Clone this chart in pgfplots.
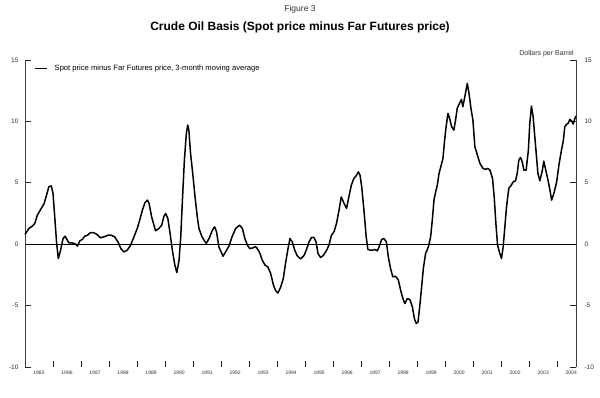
\documentclass[border=0pt]{standalone}
\usepackage{pgfplots}
\pgfplotsset{compat=1.18}
\usepackage{fontspec}
\setmainfont{Liberation Sans}
\begin{document}
\begin{tikzpicture}
\pgfplotsset{
  common/.style={
    scale only axis, width=551pt, height=307pt,
    xmin=1985, xmax=2004.67, ymin=-10, ymax=15,
    /pgf/number format/assume math mode=true,
    at={(0pt,0pt)}, anchor=south west,
  }
}
\path[use as bounding box] (-25pt,-31pt) rectangle (575pt,367pt);
\begin{axis}[common,
  clip=false,
  axis line style={draw=none},
  ytick={-10,-5,0,5,10,15},
  ytick pos=both,
  yticklabel pos=left,
  y tick label style={font=\fontsize{6.5}{7}\selectfont, text=black!80, xshift=-3pt},
  major tick length=6pt,
  tick align=inside,
  every tick/.style={black!85, line width=0.8pt},
  xtick={1985,1986,...,2004},
  xticklabels={1985,1986,1987,1988,1989,1990,1991,1992,1993,1994,1995,1996,1997,1998,1999,2000,2001,2002,2003,2004},
  xtick pos=bottom,
  x tick label style={font=\fontsize{5}{6}\selectfont, text=black!80, xshift=14pt, yshift=0pt},
  legend style={at={(axis description cs:0,1)}, anchor=north west, draw=none, fill=none,
    font=\fontsize{7.6}{8}\selectfont, inner sep=0pt, xshift=9pt, yshift=-3pt},
  legend image code/.code={\draw[#1] (0pt,0pt) -- (12pt,0pt); \path (17pt,0pt);},
]
\draw[black!75, line width=0.7pt] (rel axis cs:0,0) -- (rel axis cs:0,1);
\draw[black!75, line width=0.7pt] (rel axis cs:1,0) -- (rel axis cs:1,1);
\addplot[black, line width=0.8pt, forget plot] coordinates {(1985,0) (2004.67,0)};
\addplot[black, line width=1.5pt, line join=round] coordinates {
(1985.00,0.80) (1985.14,1.28) (1985.26,1.47) (1985.35,1.69) (1985.44,2.36) (1985.56,2.83) (1985.68,3.30) (1985.77,4.00) (1985.85,4.67) (1985.94,4.75) (1986.00,4.13) (1986.07,1.96) (1986.13,0.06) (1986.19,-1.17) (1986.27,-0.49) (1986.36,0.46) (1986.43,0.65) (1986.51,0.33) (1986.57,0.10) (1986.69,0.10) (1986.81,0.00) (1986.87,-0.16) (1986.96,0.27) (1987.05,0.40) (1987.13,0.65) (1987.23,0.73) (1987.32,0.92) (1987.44,0.95) (1987.56,0.81) (1987.70,0.52) (1987.82,0.60) (1987.96,0.73) (1988.08,0.73) (1988.20,0.60) (1988.32,0.19) (1988.42,-0.35) (1988.53,-0.63) (1988.65,-0.49) (1988.77,-0.08) (1988.89,0.60) (1989.01,1.30) (1989.10,2.00) (1989.19,2.77) (1989.28,3.37) (1989.37,3.59) (1989.43,3.32) (1989.52,2.23) (1989.66,1.09) (1989.78,1.28) (1989.88,1.55) (1989.96,2.28) (1990.02,2.50) (1990.10,2.09) (1990.18,0.87) (1990.26,-0.49) (1990.35,-1.71) (1990.42,-2.31) (1990.50,-1.30) (1990.56,0.60) (1990.62,3.59) (1990.69,6.85) (1990.76,9.02) (1990.81,9.70) (1990.85,9.29) (1990.91,7.39) (1991.00,5.49) (1991.07,3.85) (1991.15,2.23) (1991.21,1.28) (1991.31,0.65) (1991.39,0.33) (1991.47,0.06) (1991.57,0.46) (1991.69,1.14) (1991.77,1.41) (1991.84,1.00) (1991.92,-0.22) (1992.07,-0.98) (1992.16,-0.63) (1992.28,-0.16) (1992.40,0.65) (1992.52,1.28) (1992.66,1.55) (1992.76,1.28) (1992.85,0.46) (1992.94,-0.08) (1993.02,-0.35) (1993.14,-0.30) (1993.23,-0.20) (1993.29,-0.35) (1993.39,-0.76) (1993.47,-1.30) (1993.57,-1.71) (1993.67,-1.85) (1993.77,-2.39) (1993.87,-3.34) (1993.95,-3.80) (1994.03,-3.97) (1994.13,-3.48) (1994.22,-2.80) (1994.30,-1.57) (1994.39,-0.35) (1994.46,0.46) (1994.54,0.19) (1994.63,-0.49) (1994.72,-0.95) (1994.84,-1.20) (1994.96,-0.92) (1995.05,-0.43) (1995.14,0.19) (1995.23,0.55) (1995.31,0.55) (1995.39,0.19) (1995.46,-0.76) (1995.55,-1.08) (1995.65,-0.92) (1995.77,-0.49) (1995.85,-0.08) (1995.94,0.73) (1996.03,1.00) (1996.12,1.69) (1996.21,2.77) (1996.29,3.85) (1996.39,3.32) (1996.48,2.91) (1996.56,3.85) (1996.65,4.81) (1996.74,5.35) (1996.84,5.62) (1996.90,5.89) (1996.96,5.62) (1997.02,4.67) (1997.10,2.77) (1997.18,0.60) (1997.24,-0.43) (1997.34,-0.49) (1997.40,-0.49) (1997.49,-0.43) (1997.58,-0.54) (1997.64,-0.22) (1997.73,0.38) (1997.81,0.46) (1997.90,0.19) (1997.97,-1.03) (1998.05,-1.98) (1998.13,-2.66) (1998.23,-2.61) (1998.33,-2.93) (1998.41,-3.75) (1998.49,-4.43) (1998.56,-4.83) (1998.65,-4.43) (1998.74,-4.51) (1998.83,-5.11) (1998.90,-6.06) (1998.97,-6.46) (1999.03,-6.33) (1999.09,-5.11) (1999.16,-3.48) (1999.22,-1.98) (1999.30,-0.76) (1999.40,-0.22) (1999.48,0.60) (1999.54,1.96) (1999.60,3.59) (1999.66,4.26) (1999.72,4.81) (1999.78,5.76) (1999.85,6.36) (1999.92,6.98) (1999.98,8.48) (2000.04,9.70) (2000.10,10.65) (2000.16,10.24) (2000.23,9.56) (2000.31,9.29) (2000.37,10.10) (2000.43,11.06) (2000.51,11.47) (2000.58,11.79) (2000.63,11.19) (2000.70,12.00) (2000.79,13.10) (2000.85,12.28) (2000.92,11.06) (2000.99,10.10) (2001.06,7.93) (2001.15,7.25) (2001.24,6.58) (2001.35,6.17) (2001.44,6.09) (2001.52,6.17) (2001.60,6.03) (2001.69,5.35) (2001.75,3.85) (2001.81,1.69) (2001.87,-0.08) (2001.95,-0.76) (2002.01,-1.17) (2002.07,-0.22) (2002.13,1.41) (2002.19,3.04) (2002.27,4.54) (2002.36,4.81) (2002.43,5.08) (2002.51,5.16) (2002.57,5.76) (2002.63,6.85) (2002.69,7.06) (2002.75,6.71) (2002.81,6.03) (2002.89,6.03) (2002.97,7.66) (2003.02,9.84) (2003.08,11.25) (2003.14,10.37) (2003.23,7.93) (2003.31,5.76) (2003.38,5.16) (2003.47,6.03) (2003.52,6.76) (2003.59,6.03) (2003.67,5.22) (2003.74,4.40) (2003.80,3.59) (2003.88,4.13) (2003.98,5.08) (2004.06,6.44) (2004.14,7.52) (2004.22,8.48) (2004.27,9.56) (2004.33,9.76) (2004.39,9.84) (2004.45,10.16) (2004.51,10.05) (2004.57,9.78) (2004.63,10.24) (2004.67,10.43)
};
\addlegendentry{Spot price minus Far Futures price, 3-month moving average}
\end{axis}
\begin{axis}[common,
  axis line style={draw=none},
  xtick=\empty,
  ytick={-10,-5,0,5,10,15},
  ytick pos=right,
  yticklabel pos=right,
  every tick/.style={draw=none},
  y tick label style={font=\fontsize{6.5}{7}\selectfont, text=black!80, xshift=5pt},
]
\addplot[draw=none] coordinates {(1990,0)};
\end{axis}
\node[font=\fontsize{8.5}{10}\selectfont, text=black!80] at (275pt,358pt) {Figure 3};
\node[font=\bfseries\fontsize{12}{14}\selectfont] at (275pt,340pt) {Crude Oil Basis (Spot price minus Far Futures price)};
\node[font=\fontsize{7}{8}\selectfont, text=black!80, anchor=south east, inner sep=0pt] at (549pt,310pt) {Dollars per Barrel};
\end{tikzpicture}
\end{document}
